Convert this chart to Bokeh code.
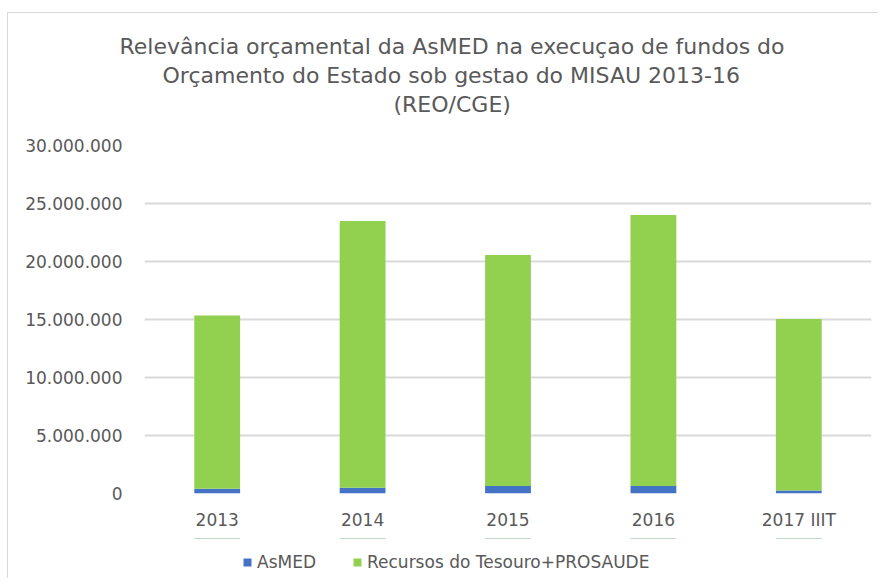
from bokeh.plotting import figure
from bokeh.layouts import column
from bokeh.models import (ColumnDataSource, Legend, LegendItem, FixedTicker, CustomJSTickFormatter,
                          Title, Range1d)
from bokeh.embed import file_html
from bokeh.resources import INLINE

years = ["2013", "2014", "2015", "2016", "2017 IIIT"]
asmed = [400000, 500000, 650000, 650000, 250000]
recursos = [14950000, 23000000, 19900000, 23350000, 14800000]
y_ticks = [0, 5000000, 10000000, 15000000, 20000000, 25000000, 30000000]
title_lines = [
    "Relevância orçamental da AsMED na execuçao de fundos do",
    "Orçamento do Estado sob gestao do MISAU 2013-16",
    "(REO/CGE)",
]
title_offsets = [-25, 18, 249]
series_names = ["AsMED", "Recursos do Tesouro+PROSAUDE"]
colors = ["#4472C4", "#92D050"]

FONT = "DejaVu Sans"
TXT = "#595959"
W = 870
MB_L, MB_R = 136, 7

src = ColumnDataSource(dict(years=years, asmed=asmed, recursos=recursos))

# ---- title strip ----
p0 = figure(width=W, height=112, output_backend="svg", toolbar_location=None, title=None,
            x_range=Range1d(0, 1), y_range=Range1d(0, 1),
            min_border_left=MB_L, min_border_right=MB_R, min_border_top=104, min_border_bottom=0)
p0.axis.visible = False
p0.grid.visible = False
p0.outline_line_color = None
for txt, off in reversed(list(zip(title_lines, title_offsets))):
    p0.add_layout(Title(text=txt, align="left", text_font=FONT, text_font_size="22px",
                        text_color=TXT, text_font_style="normal", standoff=2, offset=off), "above")

# ---- main chart ----
p = figure(
    x_range=years, y_range=(0, 30000000),
    width=W, height=413,
    output_backend="svg", toolbar_location=None, title=None,
    min_border_left=MB_L, min_border_right=MB_R, min_border_top=20, min_border_bottom=45,
)
p.outline_line_color = None
rs = p.vbar_stack(["asmed", "recursos"], x="years", width=0.315, color=colors, source=src, line_color=None)

p.yaxis.ticker = FixedTicker(ticks=y_ticks)
p.yaxis.formatter = CustomJSTickFormatter(code="return Math.round(tick).toString().replace(/\\B(?=(\\d{3})+(?!\\d))/g, '.');")
for ax in list(p.xaxis) + list(p.yaxis):
    ax.axis_line_color = None
    ax.major_tick_line_color = None
    ax.minor_tick_line_color = None
    ax.major_label_text_font = FONT
    ax.major_label_text_font_size = "17px"
    ax.major_label_text_color = TXT
p.yaxis.major_label_standoff = 16
p.xaxis.major_label_standoff = 10
p.xgrid.grid_line_color = None
p.ygrid.grid_line_color = "#d9d9d9"
p.ygrid.grid_line_width = 2
p.x_range.range_padding = 0
p.x_range.group_padding = 0

# ---- legend strip (same series, drawn outside its visible range) ----
p2 = figure(width=W, height=40, output_backend="svg", toolbar_location=None,
            x_range=years, y_range=Range1d(-2e9, -1e9),
            min_border_left=MB_L, min_border_right=MB_R, min_border_top=0, min_border_bottom=0)
p2.axis.visible = False
p2.grid.visible = False
p2.outline_line_color = None
rs2 = p2.vbar_stack(["asmed", "recursos"], x="years", width=0.315, color=colors, source=src, line_color=None)
legend = Legend(
    items=[LegendItem(label=series_names[i], renderers=[rs2[i]]) for i in range(2)],
    orientation="horizontal", location=(98, 6),
    label_text_font=FONT, label_text_font_size="17px", label_text_color=TXT,
    glyph_width=10, glyph_height=10, label_standoff=5, spacing=36,
    padding=0, margin=0, border_line_color=None, background_fill_alpha=0,
)
p2.add_layout(legend, "center")

layout = column(p0, p, p2, spacing=0,
                styles={"border-left": "1px solid #d9d9d9", "border-top": "1px solid #d9d9d9",
                        "margin-top": "12px", "margin-left": "7px"})

open("out.html", "w").write(file_html(layout, INLINE))
